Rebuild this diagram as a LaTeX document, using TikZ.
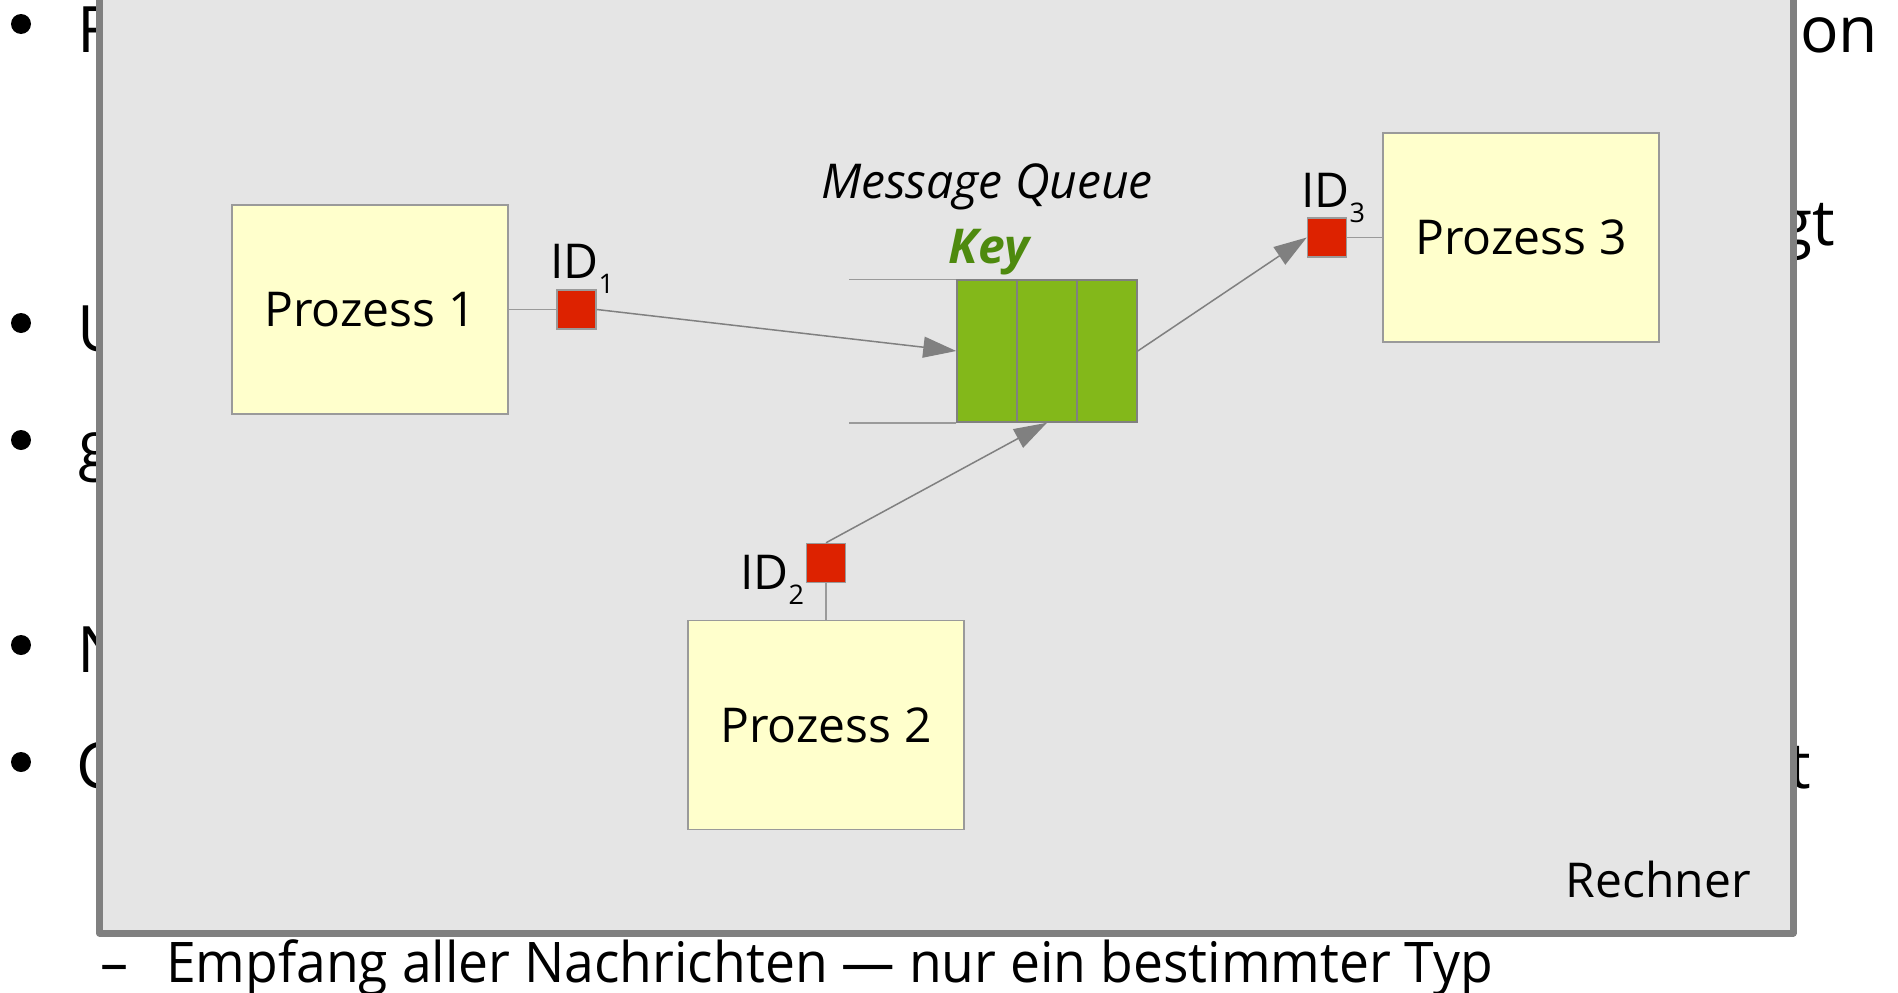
\documentclass[tikz,border=0pt]{standalone}
\usepackage{fontspec}
\usepackage{graphicx}
\setmainfont{Open Sans}
\usetikzlibrary{arrows.meta}

\definecolor{rahmen}{HTML}{808080}
\definecolor{rechnergrau}{HTML}{E5E5E5}
\definecolor{prozessgelb}{HTML}{FFFFCC}
\definecolor{idrot}{HTML}{DD2200}
\definecolor{queuegruen}{HTML}{83B81A}
\definecolor{keygruen}{HTML}{4E8A0E}
\definecolor{linie}{HTML}{9A9A9A}

\newcommand{\bild}{\fontsize{48}{58}\selectfont}
\newcommand{\idsub}[1]{\raisebox{-15pt}{\fontsize{27}{27}\selectfont #1}}

\begin{document}
\begin{tikzpicture}[x=1pt, y=-1pt,
  folie/.style={font=\fontsize{64}{77}\selectfont, inner sep=0, anchor=base west},
  unterpunkt/.style={font=\fontsize{56}{67}\selectfont, inner sep=0, anchor=base west},
  prozess/.style={draw=linie, line width=1.5, fill=prozessgelb, minimum width=276, minimum height=209, font=\bild},
  idbox/.style={draw=linie, line width=1.5, fill=idrot, minimum size=39, inner sep=0},
  idtext/.style={font=\bild, inner sep=0, anchor=base west},
  zelle/.style={draw=rahmen, line width=1.5, fill=queuegruen, minimum width=60, minimum height=142, inner sep=0},
  verbindung/.style={draw=linie, line width=1.5},
  pfeil/.style={draw=rahmen, line width=1.5, -{Triangle[length=33pt, width=21pt]}}]

\useasboundingbox (0,0) rectangle (1898,993);

% Folie im Hintergrund
\foreach \yb in {24,323,440,645,762}
 \fill (21,\yb) circle (10);
\node[folie] (f1) at (77,52) {F};
\node[folie] (f2) at (77,351) {U};
\node[folie] (f3) at (78,467) {g};
\node[folie] (f4) at (77,672) {N};
\node[folie] (f5) at (76,788) {C};
\node[folie] (f6) at (1800,52) {on};
\node[folie, anchor=base east] (f7) at (1835,245) {gt};
\node[folie, anchor=base east] (f8) at (1811,788) {t};
\node[unterpunkt] (strich) at (100,982) {–};
\node[unterpunkt] (empfang) at (166,982) {\scalebox{0.954}[1]{Empfang aller Nachrichten — nur ein bestimmter Typ}};

% Rechner
\draw[line width=7, draw=rahmen, fill=rechnergrau, line join=round] (99.5,-20) rectangle (1793,933);
\node[font=\bild, inner sep=0, anchor=base east] (rechner) at (1751,897) {Rechner};

% Prozesse mit IDs
\node[prozess] (p1) at (370,309.5) {Prozess 1};
\node[prozess] (p2) at (826,725) {Prozess 2};
\node[prozess] (p3) at (1521,237.5) {Prozess 3};

\node[idbox] (id1) at (576.5,309.5) {};
\node[idbox] (id2) at (826,563) {};
\node[idbox] (id3) at (1327,237.5) {};

\node[idtext] (l1) at (550,278) {ID\idsub{1}};
\node[idtext] (l2) at (740,589) {ID\idsub{2}};
\node[idtext] (l3) at (1301,207) {ID\idsub{3}};

\draw[verbindung] (p1) -- (id1);
\draw[verbindung] (id2) -- (p2);
\draw[verbindung] (id3) -- (p3);

% Queue
\foreach \i in {0,1,2}
 \node[zelle] (q\i) at (987+60*\i,351) {};
\draw[verbindung] (q0.north west) -- ++(-107,0);
\draw[verbindung] (q0.south west) -- ++(-107,0);

\node[font=\itshape\bild, inner sep=0, anchor=base] (mq) at (987,198) {Message Queue};
\node[font=\bfseries\itshape\bild, text=keygruen, inner sep=0, anchor=base] (key) at (989,263) {Key};

\draw[pfeil] (id1.east) -- (q0.west);
\draw[pfeil] (id2.north) -- (q1.south);
\draw[pfeil] (q2.east) -- (id3.west);

\end{tikzpicture}
\end{document}
